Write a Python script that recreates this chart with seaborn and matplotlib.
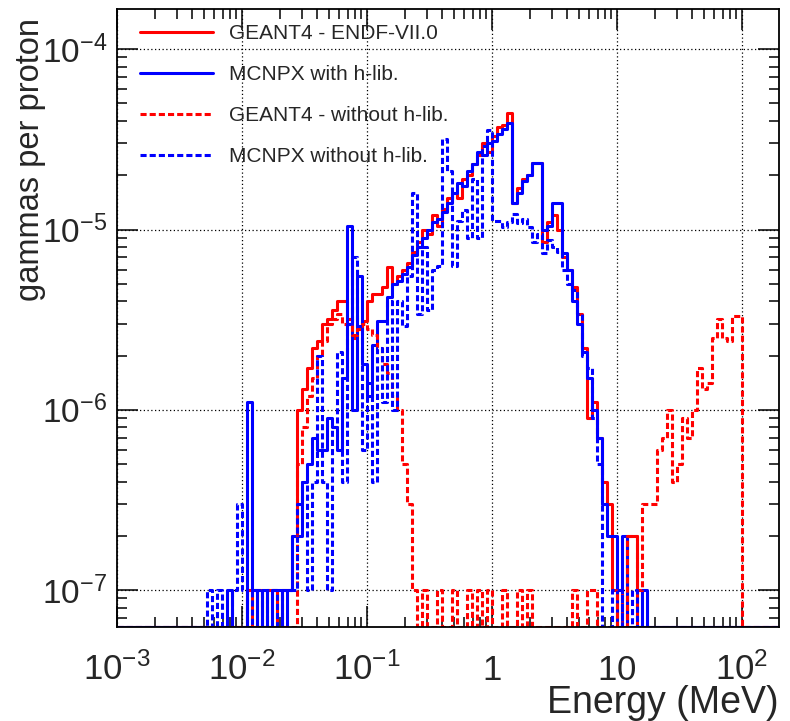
import numpy as np
import matplotlib
matplotlib.use("Agg")
import matplotlib.pyplot as plt
import seaborn as sns
from matplotlib.ticker import FixedLocator, NullFormatter

# energy binning: 25 log bins per decade from 1 keV
E_FIRST = 1e-3          # MeV
DEX_PER_BIN = 0.04
N_BINS = 133
PER_COUNT = 1e-7        # gammas per proton of one count
Y_MIN, Y_MAX = 6.25e-8, 1.67e-4
X_MIN, X_MAX = 1e-3, 198

# counts per bin, list starts at bin number *_first
g4_endf_first = 26
g4_endf = [1, 0, 1, 0, 1, 1, 0, 1, 1,
           2, 10, 13, 17, 22, 24, 30, 32, 36, 40, 40, 32, 25, 28, 31, 40,
           44, 44, 48, 62, 50, 55, 60, 65, 75, 85, 100, 95, 120, 105, 130,
           150, 160, 150, 190, 200, 230, 260, 300, 270, 330, 370, 380, 440,
           140, 170, 190, 200, 235, 235, 85, 110, 120, 100, 70, 60, 48, 34,
           22, 9, 11, 7, 4, 3, 1, 0, 0, 2, 2]

mcnpx_hlib_first = 22
mcnpx_hlib = [1, 0, 0, 0, 11, 1, 0, 1, 0, 1, 1, 0, 1,
              2, 2, 4, 5, 7, 6, 6, 9, 8, 6, 15, 105, 10, 55, 18, 12, 23, 31,
              31, 42, 50, 52, 57, 62, 72, 80, 90, 100, 110, 115, 125, 140,
              160, 180, 175, 210, 230, 270, 260, 300, 310, 340, 360, 390,
              140, 160, 185, 200, 235, 235, 100, 105, 140, 140, 74, 60, 40,
              30, 21, 15, 10, 7, 3, 2, 2, 0, 2, 0, 0, 0, 1]

g4_nohlib_first = 36
g4_nohlib = [5, 8, 12, 15, 20, 24, 30, 32, 34, 30, 30, 26, 28, 30, 28, 26,
             22, 18, 16, 12, 10, 5, 3, 1, 0, 1, 0, 0, 1, 0, 0, 1, 0, 0, 1,
             0, 1, 0, 1, 0, 0, 1, 0, 0, 1, 0, 1, 0, 0, 0, 0, 0, 0, 0, 0, 1,
             0, 0, 1, 1, 0, 0, 0, 0, 1, 0, 2, 2, 1, 3, 3, 3, 6, 7, 10, 4, 5,
             9, 7, 10, 17, 13, 14, 25, 32, 25, 24, 33, 33]

mcnpx_nohlib_first = 18
mcnpx_nohlib = [1, 0, 1, 0, 0, 1, 3, 1, 0, 1, 1, 0, 1, 1, 0, 1, 1, 1, 3, 4,
                1, 4, 20, 4, 1, 8, 21, 4, 30, 70, 29, 6, 14, 4, 22, 11, 40,
                10, 40, 29, 55, 160, 34, 80, 36, 60, 63, 316, 210, 63, 112,
                128, 90, 190, 90, 290, 355, 112, 112, 103, 110, 122, 108, 115,
                103, 85, 95, 74, 87, 80, 75, 60, 50, 46, 34, 20, 17, 9, 5, 0,
                0, 1, 1, 0, 0, 1]

series_names = ["GEANT4 - ENDF-VII.0", "MCNPX with h-lib.",
                "GEANT4 - without h-lib.", "MCNPX without h-lib."]

xtick_values = [1e-3, 1e-2, 1e-1, 1, 10, 100]
xtick_labels = [r"$10^{-3}$", r"$10^{-2}$", r"$10^{-1}$", r"$1$", r"$10$", r"$10^{2}$"]
ytick_values = [1e-7, 1e-6, 1e-5, 1e-4]
ytick_labels = [r"$10^{-7}$", r"$10^{-6}$", r"$10^{-5}$", r"$10^{-4}$"]


def histo(first, counts):
    c = np.zeros(N_BINS)
    c[first:first + len(counts)] = counts
    # empty bins sit on the bottom of the frame, like ROOT does
    y = np.where(c > 0, c * PER_COUNT, Y_MIN)
    return np.append(y, y[-1])


edges = E_FIRST * 10 ** (DEX_PER_BIN * np.arange(N_BINS + 1))

sns.set_style("ticks")
plt.rcParams["font.family"] = ["Liberation Sans", "DejaVu Sans"]
plt.rcParams["mathtext.fontset"] = "custom"
plt.rcParams["mathtext.rm"] = "Liberation Sans"
plt.rcParams["mathtext.it"] = "Liberation Sans:italic"
plt.rcParams["mathtext.bf"] = "Liberation Sans:bold"

fig = plt.figure(figsize=(7.9, 7.21), dpi=100)
ax = fig.add_axes([0.1481, 0.1304, 0.838, 0.8571])

dotted = (0, (2, 1))
styles = [
    (g4_endf_first, g4_endf, "#ff0000", "-"),
    (mcnpx_hlib_first, mcnpx_hlib, "#0000ff", "-"),
    (g4_nohlib_first, g4_nohlib, "#ff0000", dotted),
    (mcnpx_nohlib_first, mcnpx_nohlib, "#0000ff", dotted),
]
handles = []
for name, (first, counts, color, ls) in zip(series_names, styles):
    sns.lineplot(x=edges, y=histo(first, counts), ax=ax, estimator=None,
                 sort=False, drawstyle="steps-post", color=color,
                 linewidth=2.2, linestyle=ls)
    line = ax.get_lines()[-1]
    line.set_label(name)
    handles.append(line)

ax.set_xscale("log")
ax.set_yscale("log")
ax.set_xlim(X_MIN, X_MAX)
ax.set_ylim(Y_MIN, Y_MAX)

ax.xaxis.set_major_locator(FixedLocator(xtick_values))
ax.set_xticks(xtick_values, xtick_labels, va="baseline")
ax.yaxis.set_major_locator(FixedLocator(ytick_values))
ax.set_yticks(ytick_values, ytick_labels)
minor_x = [m * 10.0 ** d for d in range(-3, 3) for m in range(2, 10)]
minor_y = [m * 10.0 ** d for d in range(-8, -3) for m in range(2, 10)]
ax.xaxis.set_minor_locator(FixedLocator(minor_x))
ax.yaxis.set_minor_locator(FixedLocator(minor_y))
ax.xaxis.set_minor_formatter(NullFormatter())
ax.yaxis.set_minor_formatter(NullFormatter())

ax.tick_params(which="both", direction="in", top=True, right=True,
               color="black", width=1.1)
ax.tick_params(axis="x", labelsize=25)
ax.tick_params(axis="y", labelsize=24)
ax.tick_params(which="major", length=15)
ax.tick_params(which="minor", length=7.5)
ax.tick_params(axis="x", which="major", pad=38)
ax.tick_params(axis="y", which="major", pad=7)

ax.grid(True, which="major", color="black", linestyle=(0, (1, 2)), linewidth=0.9)
ax.set_axisbelow(True)
for sp in ax.spines.values():
    sp.set_visible(True)
    sp.set_color("black")
    sp.set_linewidth(1.3)

ax.set_xlabel("Energy (MeV)", fontsize=27, loc="right")
ax.xaxis.set_label_coords(1.0, -0.094)
ax.set_ylabel("gammas per proton", fontsize=23.5, loc="top")
ax.yaxis.set_label_coords(-0.108, 0.985)

ax.legend(handles=handles, loc="upper left", bbox_to_anchor=(0.035, 0.975),
          frameon=False, fontsize=15, handlelength=3.5, handletextpad=0.75,
          labelspacing=1.05, borderpad=0, borderaxespad=0)

fig.savefig("out.png", dpi=100)
